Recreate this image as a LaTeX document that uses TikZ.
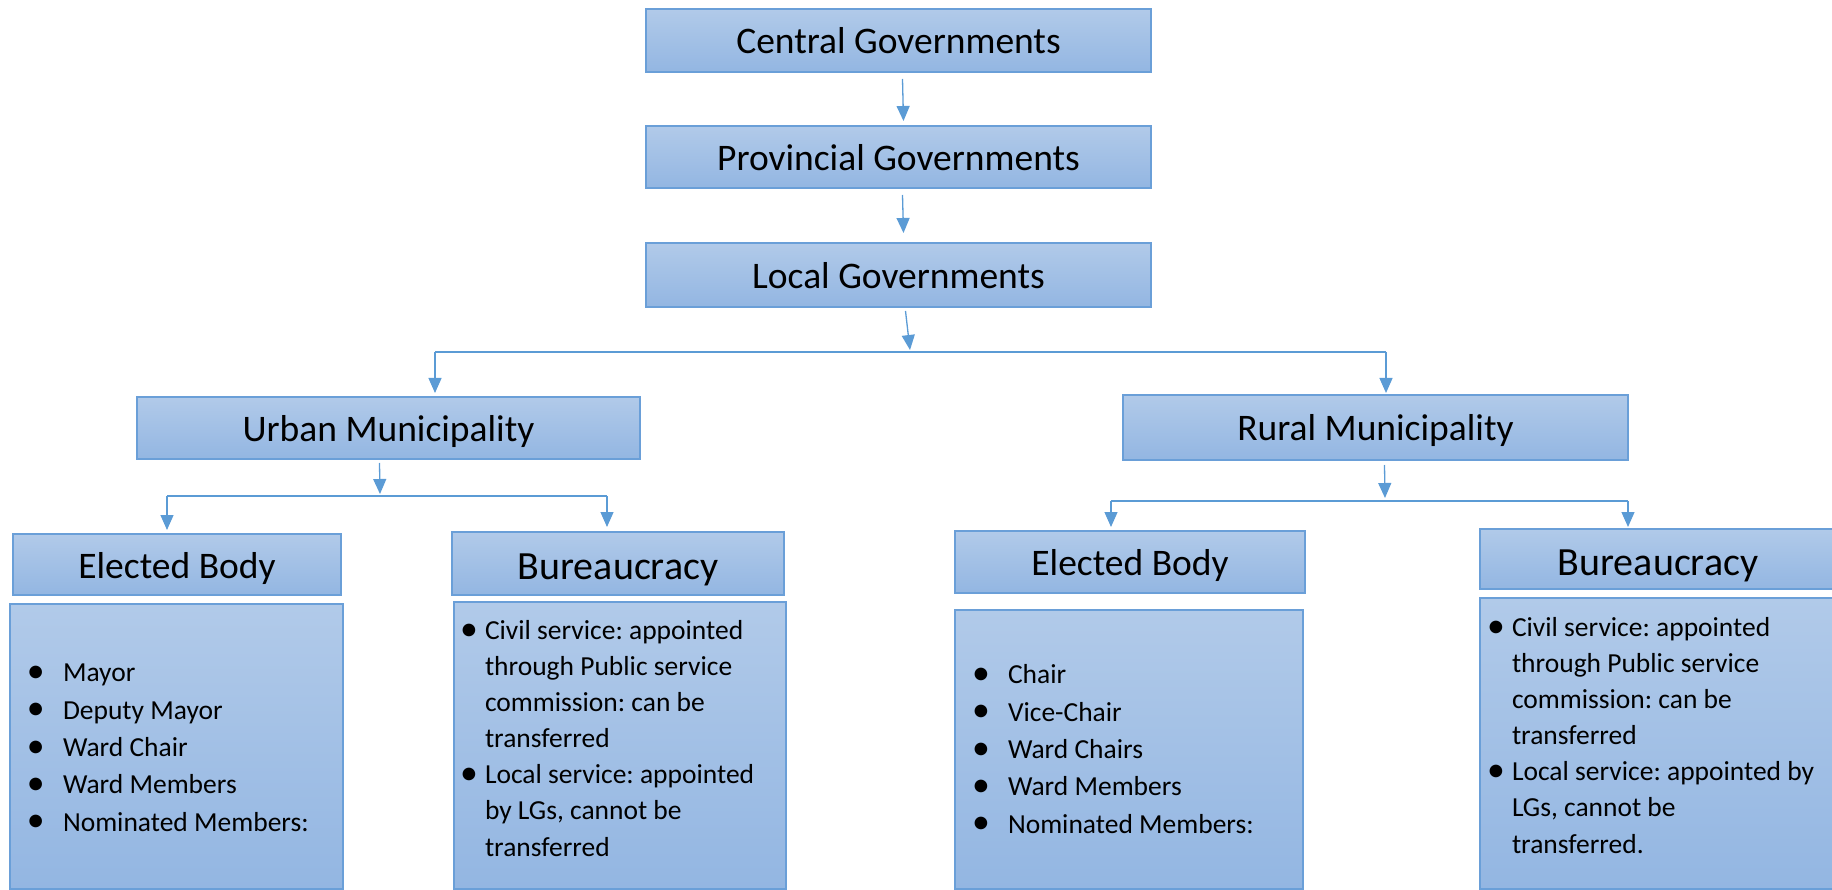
\documentclass[tikz,border=0pt]{standalone}
\usepackage{fontspec}
\usepackage{graphicx}
\setmainfont{Carlito}
\usetikzlibrary{arrows.meta}
\frenchspacing
\definecolor{boxtop}{HTML}{B1CAE9}
\definecolor{boxbot}{HTML}{93B6E2}
\definecolor{boxline}{HTML}{6A9FD8}
\definecolor{linkc}{HTML}{5B9BD5}
% bullet followed by a fixed gap
\newcommand\bulw[1]{\makebox[#1][l]{\raisebox{-0.6pt}{\scalebox{1.3}{\textbullet}}}}
\begin{document}
\begin{tikzpicture}[x=1pt,y=-1pt,
  box/.style={draw=boxline, line width=1.4pt, top color=boxtop, bottom color=boxbot,
    inner sep=0pt, outer sep=0pt, anchor=north west},
  head/.style={box, font=\fontsize{37.5}{45}\selectfont, text height=27pt, text depth=0pt},
  bighead/.style={box, font=\fontsize{40}{48}\selectfont, text height=32pt, text depth=0pt},
  listtxt/.style={inner sep=0pt, outer sep=0pt, anchor=base west, align=left},
  elist/.style={listtxt, font=\fontsize{27.5}{37.3}\selectfont},
  blist/.style={listtxt, font=\fontsize{27.5}{36.1}\selectfont},
  arr/.style={draw=linkc, line width=1.3pt, -{Triangle[width=13pt,length=15pt]}},
  conn/.style={draw=linkc, line width=1.6pt}]
\useasboundingbox (0,0) rectangle (1832,890);

% top chain
\node[head, minimum width=505pt, minimum height=63pt] (cg) at (646,9) {Central Governments};
\node[head, minimum width=505pt, minimum height=62pt] (pg) at (646,126) {Provincial Governments};
\node[head, minimum width=505pt, minimum height=64pt] (lg) at (646,243) {Local Governments};

% municipalities
\node[head, minimum width=503pt, minimum height=62pt] (um) at (137,397) {Urban Municipality};
\node[head, minimum width=505pt, minimum height=65pt] (rm) at (1123,395) {Rural Municipality};

% urban branch
\node[head, minimum width=328pt, minimum height=61pt] (ueh) at (13,534) {Elected Body};
\node[box, minimum width=333pt, minimum height=285pt] (uel) at (10,604) {};
\node[bighead, minimum width=332pt, minimum height=63pt] (ubh) at (452,532) {Bureaucracy};
\node[box, minimum width=332pt, minimum height=287pt] (ubl) at (454,602) {};

% rural branch
\node[head, minimum width=350pt, minimum height=62pt] (reh) at (955,531) {Elected Body};
\node[box, minimum width=348pt, minimum height=279pt] (rel) at (955,610) {};
\node[bighead, minimum width=356pt, minimum height=60pt] (rbh) at (1480,529) {Bureaucracy};
\node[box, minimum width=360pt, minimum height=291pt] (rbl) at (1480,598) {};

% list contents (anchored on the baseline of the last line)
\node[elist] (uelt) at (27,831) {\bulw{36pt}Mayor\\ \bulw{36pt}Deputy Mayor\\
  \bulw{36pt}Ward Chair\\ \bulw{36pt}Ward Members\\ \bulw{36pt}Nominated Members:};
\node[blist] (ublt) at (460,856) {\bulw{25pt}Civil service: appointed\\
  \hspace*{25pt}through Public service\\ \hspace*{25pt}commission: can be\\
  \hspace*{25pt}transferred\\ \bulw{25pt}Local service: appointed\\
  \hspace*{25pt}by LGs, cannot be\\ \hspace*{25pt}transferred};
\node[elist] (relt) at (972,833) {\bulw{36pt}Chair\\ \bulw{36pt}Vice-Chair\\
  \bulw{36pt}Ward Chairs\\ \bulw{36pt}Ward Members\\ \bulw{36pt}Nominated Members:};
\node[blist] (rblt) at (1487,853) {\bulw{25pt}Civil service: appointed\\
  \hspace*{25pt}through Public service\\ \hspace*{25pt}commission: can be\\
  \hspace*{25pt}transferred\\ \bulw{25pt}Local service: appointed by\\
  \hspace*{25pt}LGs, cannot be\\ \hspace*{25pt}transferred.};

% junction points of the connectors
\coordinate (lgj) at (910,350);
\coordinate (hl) at (435,352);
\coordinate (hr) at (1386,352);
\coordinate (umj) at (380,494);
\coordinate (ul) at (167,496);
\coordinate (ur) at (607,496);
\coordinate (rmj) at (1385,498);
\coordinate (rl) at (1111,501);
\coordinate (rr) at (1628,501);

% connectors
\draw[arr] ([xshift=4pt,yshift=-7pt]cg.south) -- ([xshift=5pt,yshift=5pt]pg.north);
\draw[arr] ([xshift=4pt,yshift=-7pt]pg.south) -- ([xshift=5pt,yshift=10pt]lg.north);
\draw[arr] ([xshift=7pt,yshift=-4pt]lg.south) -- (lgj);
\draw[conn] (hl) -- (hr);
\draw[arr] (hl) -- ([yshift=4pt]um.north -| hl);
\draw[arr] (hr) -- ([yshift=2pt]rm.north -| hr);

\draw[arr] ([xshift=-9pt,yshift=-4pt]um.south) -- (umj);
\draw[conn] (ul) -- (ur);
\draw[arr] (ul) -- ([yshift=4pt]ueh.north -| ul);
\draw[arr] (ur) -- ([yshift=5pt]ubh.north -| ur);

\draw[arr] ([xshift=9pt,yshift=-5pt]rm.south) -- (rmj);
\draw[conn] (rl) -- (rr);
\draw[arr] (rl) -- ([yshift=4pt]reh.north -| rl);
\draw[arr] (rr) -- ([yshift=2pt]rbh.north -| rr);
\end{tikzpicture}
\end{document}
